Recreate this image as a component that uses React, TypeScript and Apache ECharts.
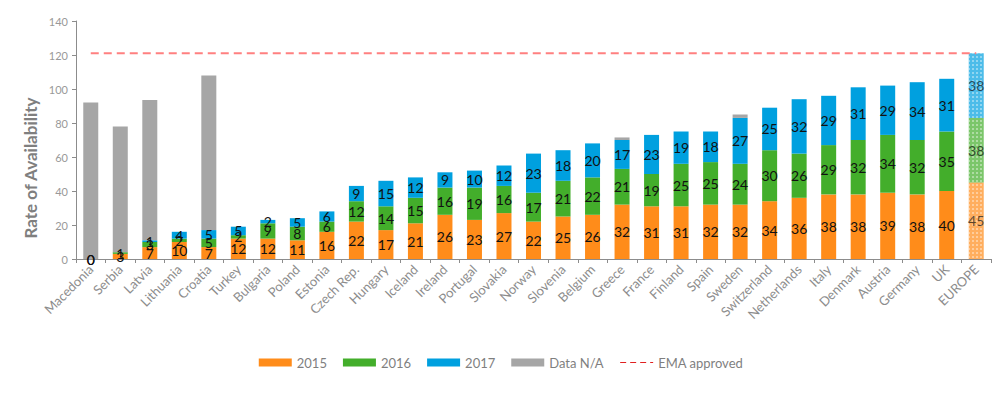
import React, { useEffect, useRef } from "react";
import * as echarts from "echarts";

const categories = [
  "Macedonia", "Serbia", "Latvia", "Lithuania", "Croatia", "Turkey", "Bulgaria", "Poland",
  "Estonia", "Czech Rep.", "Hungary", "Iceland", "Ireland", "Portugal", "Slovakia", "Norway",
  "Slovenia", "Belgium", "Greece", "France", "Finland", "Spain", "Sweden", "Switzerland",
  "Netherlands", "Italy", "Denmark", "Austria", "Germany", "UK", "EUROPE",
];

const y2015 = [0, 3, 7, 10, 7, 12, 12, 11, 16, 22, 17, 21, 26, 23, 27, 22, 25, 26, 32, 31, 31, 32, 32, 34, 36, 38, 38, 39, 38, 40, 45];
const y2016 = [0, 1, 3, 2, 5, 2, 9, 8, 6, 12, 14, 15, 16, 19, 16, 17, 21, 22, 21, 19, 25, 25, 24, 30, 26, 29, 32, 34, 32, 35, 38];
const y2017 = [null, null, 1, 4, 5, 5, 2, 5, 6, 9, 15, 12, 9, 10, 12, 23, 18, 20, 17, 23, 19, 18, 27, 25, 32, 29, 31, 29, 34, 31, 38];
const dataNA = [92, 74, 82.5, null, 91, null, null, null, null, null, null, null, null, null, null, null, null, null, 1.5, null, null, null, 2, null, null, null, null, null, null, null, null];
const EMA_APPROVED = 121;

const yTicks = { min: 0, max: 140, interval: 20 };

const COLORS = { c2015: "#FF8C1A", c2016: "#43AE2B", c2017: "#00A0DF", na: "#A6A6A6", ema: "#FF8080" };

const FONT = "Lato, 'Open Sans', sans-serif";

function decorate(values: (number | null)[], color: string) {
  const last = values.length - 1;
  return values.map((v, i) =>
    i === last && v != null
      ? {
          value: v,
          itemStyle: {
            color,
            opacity: 0.7,
            decal: {
              color: "rgba(255,255,255,0.55)",
              symbol: "rect",
              symbolSize: 1,
              dashArrayX: [2, 2],
              dashArrayY: [2, 2],
              rotation: 0,
            },
          },
        }
      : v
  );
}

export default function App() {
  const ref = useRef<HTMLDivElement>(null);
  useEffect(() => {
    if (!ref.current) return;
    const chart = echarts.init(ref.current, undefined, { renderer: "svg" });
    const label = {
      show: true,
      position: "inside",
      color: "#111",
      fontSize: 14,
      fontFamily: FONT,
    };
    const barCommon = {
      type: "bar",
      stack: "total",
      barWidth: 15,
      label,
    };
    chart.setOption({
      animation: false,
      textStyle: { fontFamily: FONT },
      grid: { left: 76, right: 11, top: 21, bottom: 134, containLabel: false },
      legend: {
        bottom: 19,
        left: "center",
        itemWidth: 33,
        itemHeight: 8,
        itemGap: 16,
        textStyle: { color: "#7f7f7f", fontSize: 13, fontFamily: FONT },
        data: [
          { name: "2015", icon: "rect" },
          { name: "2016", icon: "rect" },
          { name: "2017", icon: "rect" },
          { name: "Data N/A", icon: "rect" },
          {
            name: "EMA approved",
            itemStyle: { opacity: 0 },
            lineStyle: { color: "#E02020", width: 1, type: [6, 4] },
          },
        ],
      },
      xAxis: {
        type: "category",
        data: categories,
        axisLine: { lineStyle: { color: "#8c8c8c" } },
        axisTick: { show: true, length: 4, lineStyle: { color: "#8c8c8c" } },
        axisLabel: {
          rotate: 45,
          interval: 0,
          color: "#8c8c8c",
          fontSize: 13,
          fontFamily: FONT,
          margin: 8,
        },
      },
      yAxis: {
        type: "value",
        min: yTicks.min,
        max: yTicks.max,
        interval: yTicks.interval,
        splitLine: { show: false },
        axisLine: { show: true, lineStyle: { color: "#8c8c8c" } },
        axisTick: { show: true, length: 4, lineStyle: { color: "#8c8c8c" } },
        axisLabel: { color: "#999", fontSize: 11, fontFamily: FONT, margin: 8 },
      },
      graphic: [
        {
          type: "text",
          x: 30,
          y: 168,
          rotation: Math.PI / 2,
          style: {
            text: "Rate of Availability",
            fill: "#7f7f7f",
            font: `bold 17px ${FONT}`,
            align: "center",
            verticalAlign: "middle",
          },
        },
      ],
      series: [
        { ...barCommon, name: "2015", color: COLORS.c2015, itemStyle: { color: COLORS.c2015 }, data: decorate(y2015, COLORS.c2015) },
        { ...barCommon, name: "2016", color: COLORS.c2016, itemStyle: { color: COLORS.c2016 }, data: decorate(y2016, COLORS.c2016) },
        { ...barCommon, name: "2017", color: COLORS.c2017, itemStyle: { color: COLORS.c2017 }, data: decorate(y2017, COLORS.c2017) },
        { ...barCommon, name: "Data N/A", color: COLORS.na, itemStyle: { color: COLORS.na }, label: { show: false }, data: dataNA },
        {
          type: "line",
          name: "EMA approved",
          color: COLORS.ema,
          symbol: "none",
          lineStyle: { color: COLORS.ema, width: 2, type: [8, 5] },
          data: categories.map(() => EMA_APPROVED),
          z: 5,
        },
      ],
    });
    return () => chart.dispose();
  }, []);
  return (
    <div
      ref={ref}
      style={{ position: "fixed", left: 0, top: 0, width: 1002, height: 393, background: "#fff" }}
    />
  );
}
